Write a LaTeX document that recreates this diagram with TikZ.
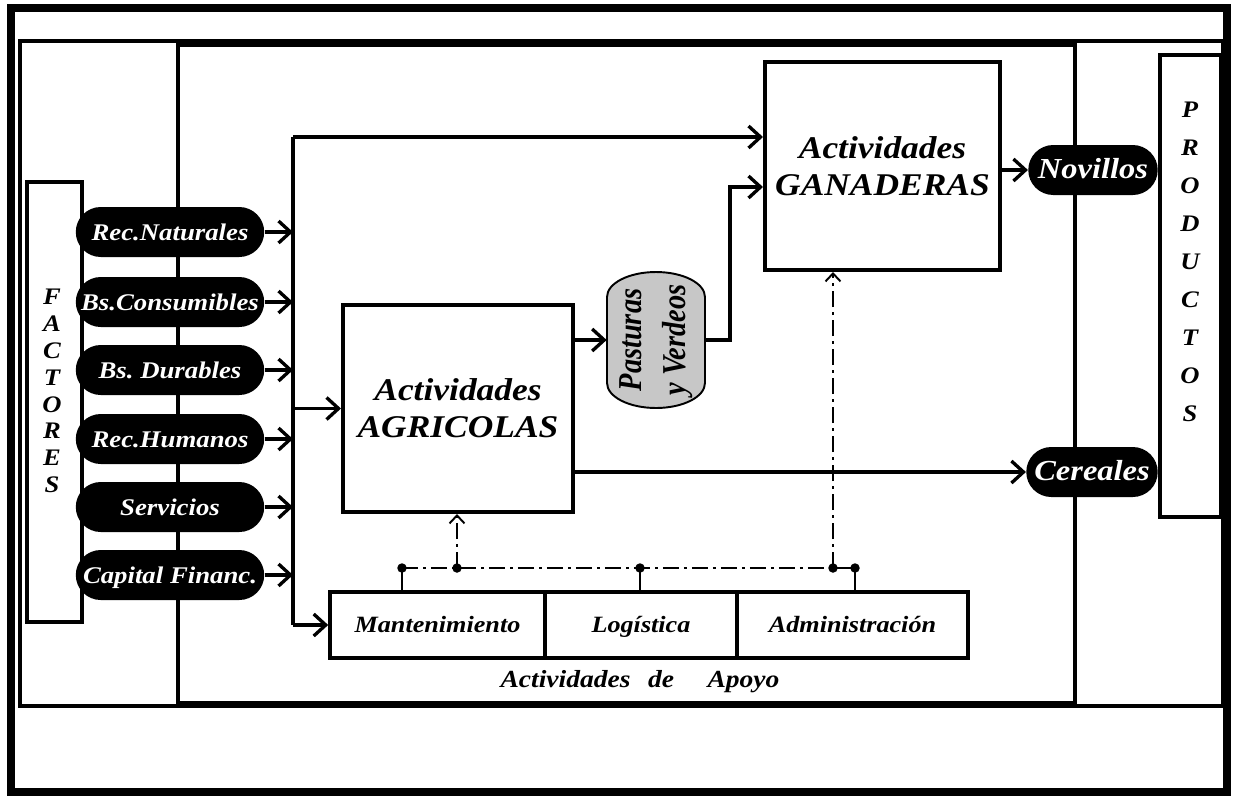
\documentclass[tikz,border=0pt]{standalone}
\usepackage{fontspec}
\setmainfont{Liberation Serif}[FakeStretch=1.12]
\usetikzlibrary{shapes.misc,arrows.meta}

\begin{document}
\begin{tikzpicture}[x=0.02cm,y=-0.02cm,
    >={Straight Barb[length=2.4mm,width=4.4mm]},
    panel/.style={draw,line width=2.3pt},
    pill/.style={rounded rectangle,fill=black,text=white,inner sep=1pt,
      minimum width=3.84cm,minimum height=1cm,text height=2ex,text depth=0pt,
      font=\fontsize{13.6}{15}\selectfont\bfseries\itshape},
    actbox/.style={draw,line width=2.3pt,align=center,
      font=\fontsize{18}{21}\selectfont\bfseries\itshape},
    apoyobox/.style={draw,line width=2.1pt,minimum height=1.32cm,text height=1.9ex,text depth=0pt,
      font=\fontsize{13.3}{15}\selectfont\bfseries\itshape},
    flow/.style={->,line width=1.9pt},
    ctrl/.style={line width=1.1pt,dash pattern=on 9pt off 3pt on 1.5pt off 3pt},
    letters/.style={align=center,font=\fontsize{13.5}{15.3}\selectfont\bfseries\itshape}]

        \useasboundingbox (0,0) rectangle (1235,799);

        % Frames
        \draw[line width=4pt] (11,8) rectangle (1227,792);
        \draw[panel] (20,41) rectangle (1223,706);
        \draw[panel] (178,45) rectangle (1075,703);

        % Factores and productos
        \node[panel,minimum width=1.1cm,minimum height=8.8cm] (fbox) at (54.5,402) {};
        \node[letters] (factores) at (52,391) {F\\A\\C\\T\\O\\R\\E\\S};
        \node[panel,fill=white,minimum width=1.22cm,minimum height=9.24cm] (pbox) at (1190.5,286) {};
        \node[letters,font=\fontsize{13.5}{21.6}\selectfont\bfseries\itshape] (productos) at (1190,262) {P\\R\\O\\D\\U\\C\\T\\O\\S};

        % Input factors
        \node[pill] (natur) at (170,232) {Rec.Naturales};
        \node[pill] (consum) at (170,302) {Bs.Consumibles};
        \node[pill] (durab) at (170,370) {Bs.\ Durables};
        \node[pill] (human) at (170,439) {Rec.Humanos};
        \node[pill] (servi) at (170,507) {Servicios};
        \node[pill] (capit) at (170,575) {Capital Financ.};

        % Activities
        \node[actbox,minimum width=4.7cm,minimum height=4.16cm] (gana) at (882.5,166) {Actividades\\GANADERAS};
        \node[actbox,minimum width=4.6cm,minimum height=4.14cm] (agri) at (458,408.5) {Actividades\\AGRICOLAS};

        % Pasturas y Verdeos
        \node[minimum width=1.96cm,minimum height=2.72cm] (pasto) at (656,340) {};
        \draw[line width=1.1pt,fill=black!22] (607,297) arc[start angle=180,end angle=0,x radius=0.98cm,y radius=0.5cm]
            -- (705,383) arc[start angle=0,end angle=-180,x radius=0.98cm,y radius=0.5cm] -- cycle;
        \node[rotate=90,align=center,font=\fontsize{19}{25}\selectfont\bfseries\itshape\addfontfeature{FakeStretch=0.85}] (pastotxt) at (pasto) {Pasturas\\y Verdeos};

        % Products
        \node[pill,minimum width=2.66cm,font=\fontsize{16.5}{18}\selectfont\bfseries\itshape] (novil) at (1093,170) {Novillos};
        \node[pill,minimum width=2.7cm,font=\fontsize{16.5}{18}\selectfont\bfseries\itshape] (cerea) at (1092,472) {Cereales};

        % Support activities
        \node[apoyobox,minimum width=4.3cm] (mant) at (437.5,625) {Mantenimiento};
        \node[apoyobox,minimum width=3.84cm] (logi) at (641,625) {Logística};
        \node[apoyobox,minimum width=4.62cm] (admin) at (852.5,625) {Administración};
        \node[font=\fontsize{14}{16}\selectfont\bfseries\itshape] (apoyo) at (640,682) {Actividades\hspace{10pt}de\hspace{19pt}Apoyo};

        % Input bus
        \coordinate (bustop) at (293,137);
        \coordinate (busbot) at (293,625);
        \draw[line width=1.9pt] (bustop) -- (busbot);
        \draw[flow] (natur.east) -- (natur.east -| bustop);
        \draw[flow] (consum.east) -- (consum.east -| bustop);
        \draw[flow] (durab.east) -- (durab.east -| bustop);
        \draw[flow] (human.east) -- (human.east -| bustop);
        \draw[flow] (servi.east) -- (servi.east -| bustop);
        \draw[flow] (capit.east) -- (capit.east -| bustop);
        \draw[flow] (bustop) -- (bustop -| gana.west);
        \draw[flow] (bustop |- agri.west) -- (agri.west);
        \draw[flow] (busbot) -- (mant.west);

        % Outputs
        \coordinate (knee) at (730,187);
        \draw[flow] (agri.east |- pasto) -- (pasto.west);
        \draw[flow] (pasto.east) -| (knee) -- (knee -| gana.west);
        \draw[flow] (gana.east |- novil) -- (novil.west);
        \draw[flow] (agri.east |- cerea) -- (cerea.west);

        % Control links from support activities
        \coordinate (d1) at (402,568);
        \coordinate (d2) at (457,568);
        \coordinate (d3) at (640,568);
        \coordinate (d4) at (833,568);
        \coordinate (d5) at (855,568);
        \draw[ctrl] (d1) -- (d4);
        \draw[line width=1.1pt] (d4) -- (d5);
        \draw[line width=1.3pt] (d1) -- (d1 |- mant.north);
        \draw[line width=1.3pt] (d3) -- (d3 |- logi.north);
        \draw[line width=1.3pt] (d5) -- (d5 |- admin.north);
        \draw[ctrl,-{Straight Barb[length=1.6mm,width=3mm]}] (d2) -- (d2 |- agri.south);
        \draw[ctrl,-{Straight Barb[length=1.6mm,width=3mm]}] (d4) -- (d4 |- gana.south);
        \fill (d1) circle (2.7pt) (d2) circle (2.7pt) (d3) circle (2.7pt) (d4) circle (2.7pt) (d5) circle (2.7pt);

\end{tikzpicture}
\end{document}
